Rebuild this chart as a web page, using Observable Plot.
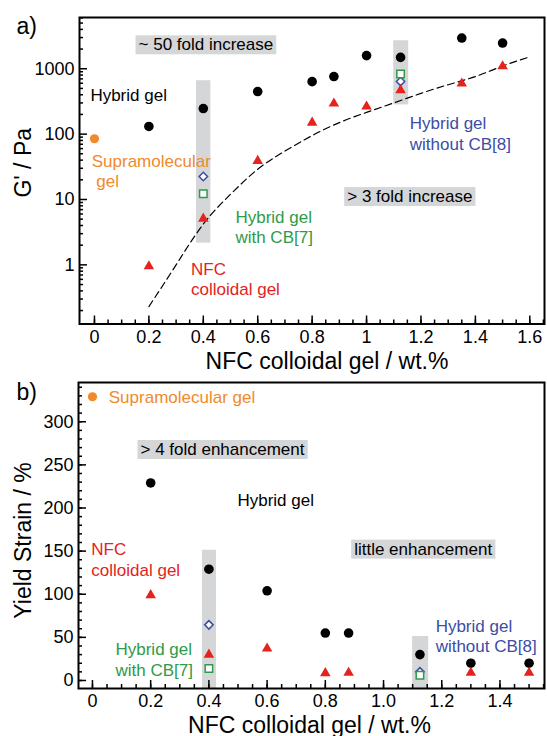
<!DOCTYPE html>
<html><head><meta charset="utf-8">
<script src="https://cdn.jsdelivr.net/npm/d3@7"></script>
<script src="https://cdn.jsdelivr.net/npm/@observablehq/plot@0.6"></script>
<style>
body{margin:0;background:#fff;}
#chart{width:547px;}
#chart svg{display:block;}
</style></head><body><div id="chart"></div>
<script>
// ---------------- Panel a) data : G' / Pa (log) ----------------
const aX = [0.2, 0.4, 0.6, 0.8, 0.88, 1.0, 1.125, 1.35, 1.5];
const aHybrid = [131, 246, 448, 635, 760, 1590, 1490, 2950, 2470];
const aNFC = [0.95, 5.1, 39, 150, 294, 265, 470, 594, 1090];
const aCtrlX = [0.4, 1.125];
const aWithoutCB8 = [22.5, 640];
const aWithCB7 = [12.2, 830];
const aSupraX = [0];
const aSupra = [85];
const aFitX = [0.2, 0.3, 0.4, 0.5, 0.6, 0.7, 0.8, 0.9, 1.0, 1.1, 1.2, 1.3, 1.4, 1.5, 1.6];
const aFitG = [0.23, 1.0, 4.2, 12, 29, 55, 95, 150, 215, 300, 420, 570, 760, 1100, 1520];
const aBandX1 = [0.375, 1.10];
const aBandX2 = [0.428, 1.155];
const aBandLow = [2.15, 280];
const aBandHigh = [656, 2680];
const aXTicks = [0, 0.2, 0.4, 0.6, 0.8, 1, 1.2, 1.4, 1.6];
const aXTickLabels = ["0", "0.2", "0.4", "0.6", "0.8", "1", "1.2", "1.4", "1.6"];
const aYTicks = [1, 10, 100, 1000];
const aYTickLabels = ["1", "10", "100", "1000"];
const aNoteText = ["Hybrid gel", "~ 50 fold increase", "> 3 fold increase", "Supramolecular", "gel",
                   "Hybrid gel\nwithout CB[8]", "Hybrid gel\nwith CB[7]", "NFC\ncolloidal gel"];
const aNoteX = [-0.015, 0.162, 0.929, -0.01, 0.007, 1.159, 0.518, 0.355];
const aNoteY = [410, 2410, 11.5, 39, 19.3, 104, 3.84, 0.62];
const aNoteKind = ["black", "box", "box", "orange", "orange", "blue", "green", "red"];

// ---------------- Panel b) data : Yield strain / % ----------------
const bHybridX = [0.2, 0.4, 0.6, 0.8, 0.88, 1.125, 1.3, 1.5];
const bHybrid = [229, 129, 104, 55, 55, 30, 20, 20];
const bNFCX = [0.2, 0.4, 0.6, 0.8, 0.88, 1.3, 1.5];
const bNFC = [99, 30, 37, 8.5, 9, 9, 9];
const bCtrlX = [0.4, 1.125];
const bWithoutCB8 = [64.5, 10];
const bWithCB7 = [14, 6];
const bSupraX = [0];
const bSupra = [329];
const bBandX1 = [0.378, 1.10];
const bBandX2 = [0.426, 1.155];
const bBandHigh = [151, 51];
const bXTicks = [0, 0.2, 0.4, 0.6, 0.8, 1.0, 1.2, 1.4];
const bXTickLabels = ["0", "0.2", "0.4", "0.6", "0.8", "1.0", "1.2", "1.4"];
const bYTicks = [0, 50, 100, 150, 200, 250, 300];
const bYTickLabels = ["0", "50", "100", "150", "200", "250", "300"];
const bNoteText = ["Supramolecular gel", "> 4 fold enhancement", "Hybrid gel", "little enhancement",
                   "NFC\ncolloidal gel", "Hybrid gel\nwith CB[7]", "Hybrid gel\nwithout CB[8]"];
const bNoteX = [0.056, 0.165, 0.498, 0.899, -0.004, 0.079, 1.179];
const bNoteY = [329, 269, 210, 153.5, 141, 25.1, 52.1];
const bNoteKind = ["orange", "box", "black", "box", "red", "green", "blue"];

const xTitle = "NFC colloidal gel / wt.%";

// ---------------- styling ----------------
const FONT = '"Liberation Sans", Arial, Helvetica, sans-serif';
const COLORS = {black: "#000", box: "#000", orange: "#f08a2c", blue: "#3c4da6", green: "#2f9a4a", red: "#e5221c"};
const GRAY = "#d5d6d8";

const pts = (X, Y) => X.map((x, i) => ({x, y: Y[i]}));
const notes = (T, X, Y, K) => T.map((t, i) => ({t, x: X[i], y: Y[i], k: K[i]}));

function axes(xt, xl, xminor, yt, yl, yminor) {
  return [
    Plot.axisX(xminor, {anchor: "bottom", tickSize: -4, fill: "none", strokeWidth: 1.5, label: null}),
    Plot.axisX(xt, {anchor: "bottom", tickSize: -8, tickPadding: 14, tickFormat: d => xl[xt.indexOf(d)],
      fontSize: 18, strokeWidth: 1.5, label: null}),
    Plot.axisY(yminor, {anchor: "left", tickSize: -4, fill: "none", strokeWidth: 1.5, label: null}),
    Plot.axisY(yt, {anchor: "left", tickSize: -8, tickPadding: 13, tickFormat: d => yl[yt.indexOf(d)],
      fontSize: 18, strokeWidth: 1.5, label: null})
  ];
}

function noteMarks(N) {
  return Object.keys(COLORS).map(k => Plot.text(N.filter(n => n.k === k), {
    x: "x", y: "y", text: "t", fill: COLORS[k], fontSize: 17, textAnchor: "start",
    lineAnchor: "middle", lineHeight: 1.2
  }));
}

function markers(H, N, W, C, S) {
  return [
    Plot.dot(H, {x: "x", y: "y", r: 4.8, fill: "black"}),
    Plot.dot(S, {x: "x", y: "y", r: 4.6, fill: COLORS.orange}),
    Plot.dot(W, {x: "x", y: "y", symbol: "diamond2", r: 3.8, stroke: COLORS.blue, fill: "white", strokeWidth: 1.5}),
    Plot.dot(C, {x: "x", y: "y", symbol: "square", r: 4.2, stroke: COLORS.green, fill: "white", strokeWidth: 1.5}),
    Plot.dot(N, {x: "x", y: "y", symbol: "triangle", r: 3.9, fill: COLORS.red})
  ];
}

// ---------- Panel a ----------
const aXDomain = [-0.055, 1.654];
const aYDomain = [0.1245, 6080];
const aXMinor = d3.range(0, 1.651, 0.05);
const aYMinor = [];
for (const dec of [0.1, 1, 10, 100, 1000]) for (let m = 2; m <= 9; m++) {
  const v = m * dec; if (v >= aYDomain[0] && v <= aYDomain[1]) aYMinor.push(v);
}
const aBands = aBandX1.map((x1, i) => ({x1, x2: aBandX2[i], lo: aBandLow[i], hi: aBandHigh[i]}));

const plotA = Plot.plot({
  width: 547, height: 376,
  marginTop: 17, marginBottom: 52.5, marginLeft: 79, marginRight: 3,
  style: {fontFamily: FONT, color: "black", background: "white", overflow: "visible"},
  x: {domain: aXDomain, label: null},
  y: {type: "log", domain: aYDomain, label: null},
  marks: [
    Plot.rect(aBands, {x1: "x1", x2: "x2", y1: "lo", y2: "hi", fill: GRAY}),
    Plot.line(pts(aFitX, aFitG), {x: "x", y: "y", curve: "natural", stroke: "black", strokeWidth: 1.2, strokeDasharray: "7,4"}),
    ...markers(pts(aX, aHybrid), pts(aX, aNFC), pts(aCtrlX, aWithoutCB8), pts(aCtrlX, aWithCB7), pts(aSupraX, aSupra)),
    Plot.frame({stroke: "black", strokeWidth: 2}),
    ...axes(aXTicks, aXTickLabels, aXMinor, aYTicks, aYTickLabels, aYMinor),
    ...noteMarks(notes(aNoteText, aNoteX, aNoteY, aNoteKind)),
    Plot.text([xTitle], {text: d => d, frameAnchor: "bottom", dx: 15, dy: 44.5, lineAnchor: "bottom", fontSize: 23}),
    Plot.text(["G' / Pa"], {text: d => d, frameAnchor: "left", dx: -56, dy: -8, rotate: -90, textAnchor: "middle", lineAnchor: "middle", fontSize: 23}),
    Plot.text(["a)"], {text: d => d, frameAnchor: "top-left", dx: -63, dy: 9, textAnchor: "start", lineAnchor: "middle", fontSize: 23})
  ]
});

// ---------- Panel b ----------
const bXDomain = [-0.048, 1.553];
const bYDomain = [-9.3, 345.5];
const bXMinor = d3.range(0, 1.551, 0.05);
const bYMinor = d3.range(0, 341, 10);
const bBands = bBandX1.map((x1, i) => ({x1, x2: bBandX2[i], lo: bYDomain[0], hi: bBandHigh[i]}));

const plotB = Plot.plot({
  width: 547, height: 360,
  marginTop: 6, marginBottom: 48, marginLeft: 78, marginRight: 3,
  style: {fontFamily: FONT, color: "black", background: "white", overflow: "visible"},
  x: {domain: bXDomain, label: null},
  y: {domain: bYDomain, label: null},
  marks: [
    Plot.rect(bBands, {x1: "x1", x2: "x2", y1: "lo", y2: "hi", fill: GRAY}),
    ...markers(pts(bHybridX, bHybrid), pts(bNFCX, bNFC), pts(bCtrlX, bWithoutCB8), pts(bCtrlX, bWithCB7), pts(bSupraX, bSupra)),
    Plot.frame({stroke: "black", strokeWidth: 2}),
    ...axes(bXTicks, bXTickLabels, bXMinor, bYTicks, bYTickLabels, bYMinor),
    ...noteMarks(notes(bNoteText, bNoteX, bNoteY, bNoteKind)),
    Plot.text([xTitle], {text: d => d, frameAnchor: "bottom", dx: -2, dy: 44, lineAnchor: "bottom", fontSize: 23}),
    Plot.text(["Yield Strain / %"], {text: d => d, frameAnchor: "left", dx: -54.5, dy: 5, rotate: -90, textAnchor: "middle", lineAnchor: "middle", fontSize: 23}),
    Plot.text(["b)"], {text: d => d, frameAnchor: "top-left", dx: -62, dy: 10, textAnchor: "start", lineAnchor: "middle", fontSize: 23})
  ]
});

const host = document.getElementById("chart");
host.append(plotA, plotB);

// grey boxes behind the "fold increase / enhancement" notes
const boxed = new Set([...aNoteText.filter((t, i) => aNoteKind[i] === "box"), ...bNoteText.filter((t, i) => bNoteKind[i] === "box")]);
host.querySelectorAll("text").forEach(t => {
  if (!boxed.has(t.textContent)) return;
  const b = t.getBBox();
  const r = document.createElementNS("http://www.w3.org/2000/svg", "rect");
  r.setAttribute("x", b.x - 3);
  r.setAttribute("y", b.y);
  r.setAttribute("width", b.width + 6);
  r.setAttribute("height", b.height);
  r.setAttribute("fill", GRAY);
  const tr = t.getAttribute("transform");
  if (tr) r.setAttribute("transform", tr);
  t.parentNode.insertBefore(r, t);
});
</script>
</body></html>
